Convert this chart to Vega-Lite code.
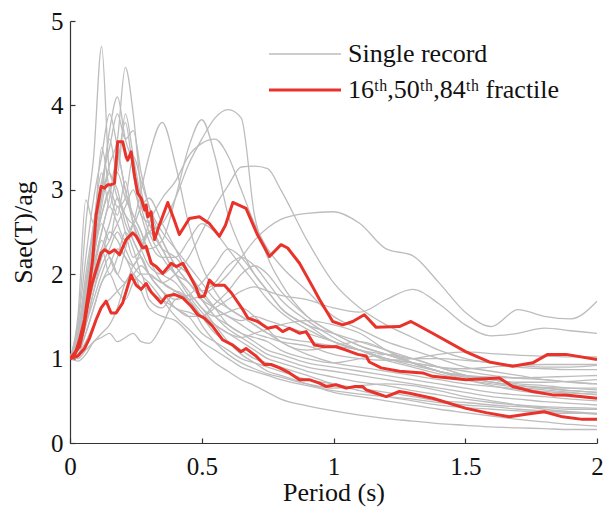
{
"$schema": "https://vega.github.io/schema/vega-lite/v6.json",
"width": 527, "height": 422,
"autosize": {"type": "none"},
"padding": {"left": 70, "top": 21, "right": 8, "bottom": 68},
"background": "white",
"config": {
 "view": {"stroke": null},
 "font": "Liberation Serif",
 "axis": {"grid": false, "domainColor": "#333", "tickColor": "#333", "labelColor": "#111", "titleColor": "#111", "labelFont": "Liberation Serif", "titleFont": "Liberation Serif", "labelFontSize": 25, "titleFontSize": 26, "titleFontWeight": "normal", "tickSize": -5, "domainWidth": 1.2, "tickWidth": 1.2},
 "legend": {"orient": "none", "legendX": 195, "legendY": 20, "padding": 0, "labelFont": "Liberation Serif", "labelFontSize": 26, "labelColor": "#111", "symbolType": "M-1,0H7", "symbolSize": 324, "labelOffset": 57, "rowPadding": 10, "title": null, "labelLimit": 400}
},
"datasets": {
"gray": [
{"s":"a","x":0,"y":1},{"s":"a","x":0.03,"y":1.4},{"s":"a","x":0.06,"y":2.6},{"s":"a","x":0.09,"y":3.4},{"s":"a","x":0.12,"y":4.7},{"s":"a","x":0.15,"y":3.2},{"s":"a","x":0.18,"y":3},{"s":"a","x":0.21,"y":2.6},{"s":"a","x":0.24,"y":2.4},{"s":"a","x":0.27,"y":2.2},{"s":"a","x":0.3,"y":2},{"s":"a","x":0.35,"y":1.8},{"s":"a","x":0.4,"y":1.6},{"s":"a","x":0.45,"y":1.5},{"s":"a","x":0.5,"y":1.3},{"s":"a","x":0.55,"y":1.2},{"s":"a","x":0.6,"y":1.1},{"s":"a","x":0.65,"y":1},{"s":"a","x":0.7,"y":0.95},{"s":"a","x":0.75,"y":0.9},{"s":"a","x":0.8,"y":0.85},{"s":"a","x":0.9,"y":0.75},{"s":"a","x":1,"y":0.7},{"s":"a","x":1.1,"y":0.62},{"s":"a","x":1.2,"y":0.55},{"s":"a","x":1.3,"y":0.5},{"s":"a","x":1.4,"y":0.45},{"s":"a","x":1.5,"y":0.42},{"s":"a","x":1.6,"y":0.4},{"s":"a","x":1.7,"y":0.38},{"s":"a","x":1.8,"y":0.36},{"s":"a","x":1.9,"y":0.35},{"s":"a","x":2,"y":0.35},
{"s":"b","x":0,"y":1},{"s":"b","x":0.03,"y":1.3},{"s":"b","x":0.06,"y":1.9},{"s":"b","x":0.09,"y":2.5},{"s":"b","x":0.12,"y":2.9},{"s":"b","x":0.15,"y":3.3},{"s":"b","x":0.18,"y":3.6},{"s":"b","x":0.21,"y":4.45},{"s":"b","x":0.24,"y":3.9},{"s":"b","x":0.27,"y":3},{"s":"b","x":0.3,"y":2.7},{"s":"b","x":0.35,"y":2.4},{"s":"b","x":0.4,"y":2.1},{"s":"b","x":0.45,"y":1.9},{"s":"b","x":0.5,"y":1.7},{"s":"b","x":0.55,"y":1.5},{"s":"b","x":0.6,"y":1.4},{"s":"b","x":0.65,"y":1.3},{"s":"b","x":0.7,"y":1.2},{"s":"b","x":0.75,"y":1.1},{"s":"b","x":0.8,"y":1.05},{"s":"b","x":0.9,"y":0.95},{"s":"b","x":1,"y":0.9},{"s":"b","x":1.1,"y":0.85},{"s":"b","x":1.2,"y":0.8},{"s":"b","x":1.3,"y":0.75},{"s":"b","x":1.4,"y":0.7},{"s":"b","x":1.5,"y":0.65},{"s":"b","x":1.6,"y":0.6},{"s":"b","x":1.7,"y":0.57},{"s":"b","x":1.8,"y":0.55},{"s":"b","x":1.9,"y":0.52},{"s":"b","x":2,"y":0.5},
{"s":"c","x":0,"y":1},{"s":"c","x":0.03,"y":1.2},{"s":"c","x":0.06,"y":1.7},{"s":"c","x":0.09,"y":2.2},{"s":"c","x":0.12,"y":2.6},{"s":"c","x":0.15,"y":2.4},{"s":"c","x":0.18,"y":2.8},{"s":"c","x":0.21,"y":2.5},{"s":"c","x":0.24,"y":2.2},{"s":"c","x":0.27,"y":2.3},{"s":"c","x":0.3,"y":2.5},{"s":"c","x":0.35,"y":2.6},{"s":"c","x":0.4,"y":2.9},{"s":"c","x":0.45,"y":3.3},{"s":"c","x":0.5,"y":3.6},{"s":"c","x":0.55,"y":3.85},{"s":"c","x":0.6,"y":3.95},{"s":"c","x":0.65,"y":3.85},{"s":"c","x":0.7,"y":2.7},{"s":"c","x":0.75,"y":2.2},{"s":"c","x":0.8,"y":1.9},{"s":"c","x":0.9,"y":1.5},{"s":"c","x":1,"y":1.3},{"s":"c","x":1.1,"y":1.15},{"s":"c","x":1.2,"y":1.05},{"s":"c","x":1.3,"y":0.95},{"s":"c","x":1.4,"y":0.85},{"s":"c","x":1.5,"y":0.8},{"s":"c","x":1.6,"y":0.75},{"s":"c","x":1.7,"y":0.7},{"s":"c","x":1.8,"y":0.68},{"s":"c","x":1.9,"y":0.65},{"s":"c","x":2,"y":0.63},
{"s":"d","x":0,"y":1},{"s":"d","x":0.03,"y":1.3},{"s":"d","x":0.06,"y":1.8},{"s":"d","x":0.09,"y":2.3},{"s":"d","x":0.12,"y":2.7},{"s":"d","x":0.15,"y":3},{"s":"d","x":0.18,"y":3.2},{"s":"d","x":0.21,"y":2.9},{"s":"d","x":0.24,"y":2.7},{"s":"d","x":0.27,"y":2.5},{"s":"d","x":0.3,"y":2.3},{"s":"d","x":0.35,"y":2.4},{"s":"d","x":0.4,"y":2.9},{"s":"d","x":0.45,"y":3.5},{"s":"d","x":0.5,"y":3.83},{"s":"d","x":0.55,"y":3.4},{"s":"d","x":0.6,"y":2.7},{"s":"d","x":0.65,"y":2.3},{"s":"d","x":0.7,"y":2},{"s":"d","x":0.75,"y":1.8},{"s":"d","x":0.8,"y":1.6},{"s":"d","x":0.9,"y":1.4},{"s":"d","x":1,"y":1.3},{"s":"d","x":1.1,"y":1.2},{"s":"d","x":1.2,"y":1.1},{"s":"d","x":1.3,"y":1},{"s":"d","x":1.4,"y":0.9},{"s":"d","x":1.5,"y":0.8},{"s":"d","x":1.6,"y":0.72},{"s":"d","x":1.7,"y":0.68},{"s":"d","x":1.8,"y":0.65},{"s":"d","x":1.9,"y":0.62},{"s":"d","x":2,"y":0.6},
{"s":"e","x":0,"y":1},{"s":"e","x":0.03,"y":1.2},{"s":"e","x":0.06,"y":1.6},{"s":"e","x":0.09,"y":2.1},{"s":"e","x":0.12,"y":2.5},{"s":"e","x":0.15,"y":2.8},{"s":"e","x":0.18,"y":2.6},{"s":"e","x":0.21,"y":2.4},{"s":"e","x":0.24,"y":2.6},{"s":"e","x":0.27,"y":3},{"s":"e","x":0.3,"y":3.4},{"s":"e","x":0.35,"y":3.8},{"s":"e","x":0.4,"y":3.3},{"s":"e","x":0.45,"y":2.6},{"s":"e","x":0.5,"y":2.1},{"s":"e","x":0.55,"y":1.8},{"s":"e","x":0.6,"y":1.6},{"s":"e","x":0.65,"y":1.5},{"s":"e","x":0.7,"y":1.4},{"s":"e","x":0.75,"y":1.3},{"s":"e","x":0.8,"y":1.25},{"s":"e","x":0.9,"y":1.2},{"s":"e","x":1,"y":1.15},{"s":"e","x":1.1,"y":1.1},{"s":"e","x":1.2,"y":1},{"s":"e","x":1.3,"y":0.95},{"s":"e","x":1.4,"y":0.9},{"s":"e","x":1.5,"y":0.85},{"s":"e","x":1.6,"y":0.8},{"s":"e","x":1.7,"y":0.77},{"s":"e","x":1.8,"y":0.75},{"s":"e","x":1.9,"y":0.72},{"s":"e","x":2,"y":0.7},
{"s":"f","x":0,"y":1},{"s":"f","x":0.03,"y":1.15},{"s":"f","x":0.06,"y":1.5},{"s":"f","x":0.09,"y":1.9},{"s":"f","x":0.12,"y":2.2},{"s":"f","x":0.15,"y":2.5},{"s":"f","x":0.18,"y":2.4},{"s":"f","x":0.21,"y":2.2},{"s":"f","x":0.24,"y":2.1},{"s":"f","x":0.27,"y":2.3},{"s":"f","x":0.3,"y":2.6},{"s":"f","x":0.35,"y":2.9},{"s":"f","x":0.4,"y":3.1},{"s":"f","x":0.45,"y":3.4},{"s":"f","x":0.5,"y":3.55},{"s":"f","x":0.55,"y":3.6},{"s":"f","x":0.6,"y":3.4},{"s":"f","x":0.65,"y":3},{"s":"f","x":0.7,"y":2.6},{"s":"f","x":0.75,"y":2.3},{"s":"f","x":0.8,"y":2.1},{"s":"f","x":0.9,"y":1.8},{"s":"f","x":1,"y":1.5},{"s":"f","x":1.1,"y":1.35},{"s":"f","x":1.2,"y":1.2},{"s":"f","x":1.3,"y":1.1},{"s":"f","x":1.4,"y":1},{"s":"f","x":1.5,"y":0.9},{"s":"f","x":1.6,"y":0.85},{"s":"f","x":1.7,"y":0.8},{"s":"f","x":1.8,"y":0.75},{"s":"f","x":1.9,"y":0.72},{"s":"f","x":2,"y":0.7},
{"s":"g","x":0,"y":1},{"s":"g","x":0.03,"y":1.1},{"s":"g","x":0.06,"y":1.4},{"s":"g","x":0.09,"y":1.8},{"s":"g","x":0.12,"y":2.1},{"s":"g","x":0.15,"y":2.3},{"s":"g","x":0.18,"y":2.5},{"s":"g","x":0.21,"y":2.3},{"s":"g","x":0.24,"y":2.1},{"s":"g","x":0.27,"y":2},{"s":"g","x":0.3,"y":2},{"s":"g","x":0.35,"y":1.9},{"s":"g","x":0.4,"y":2},{"s":"g","x":0.45,"y":2.2},{"s":"g","x":0.5,"y":2.5},{"s":"g","x":0.55,"y":2.8},{"s":"g","x":0.6,"y":3.05},{"s":"g","x":0.65,"y":3.27},{"s":"g","x":0.7,"y":3.28},{"s":"g","x":0.75,"y":3.25},{"s":"g","x":0.8,"y":3},{"s":"g","x":0.9,"y":2.4},{"s":"g","x":1,"y":1.9},{"s":"g","x":1.1,"y":1.6},{"s":"g","x":1.2,"y":1.4},{"s":"g","x":1.3,"y":1.25},{"s":"g","x":1.4,"y":1.1},{"s":"g","x":1.5,"y":1},{"s":"g","x":1.6,"y":0.95},{"s":"g","x":1.7,"y":0.92},{"s":"g","x":1.8,"y":0.9},{"s":"g","x":1.9,"y":0.9},{"s":"g","x":2,"y":0.92},
{"s":"h","x":0,"y":1},{"s":"h","x":0.03,"y":1.05},{"s":"h","x":0.06,"y":1.2},{"s":"h","x":0.09,"y":1.4},{"s":"h","x":0.12,"y":1.6},{"s":"h","x":0.15,"y":1.7},{"s":"h","x":0.18,"y":1.8},{"s":"h","x":0.21,"y":1.9},{"s":"h","x":0.24,"y":2},{"s":"h","x":0.27,"y":2.1},{"s":"h","x":0.3,"y":2},{"s":"h","x":0.35,"y":1.9},{"s":"h","x":0.4,"y":1.8},{"s":"h","x":0.45,"y":1.7},{"s":"h","x":0.5,"y":1.75},{"s":"h","x":0.55,"y":1.85},{"s":"h","x":0.6,"y":2},{"s":"h","x":0.65,"y":2.2},{"s":"h","x":0.7,"y":2.4},{"s":"h","x":0.75,"y":2.55},{"s":"h","x":0.8,"y":2.65},{"s":"h","x":0.9,"y":2.72},{"s":"h","x":1,"y":2.74},{"s":"h","x":1.1,"y":2.6},{"s":"h","x":1.2,"y":2.3},{"s":"h","x":1.3,"y":2.22},{"s":"h","x":1.4,"y":1.9},{"s":"h","x":1.5,"y":1.55},{"s":"h","x":1.6,"y":1.38},{"s":"h","x":1.7,"y":1.58},{"s":"h","x":1.8,"y":1.5},{"s":"h","x":1.9,"y":1.47},{"s":"h","x":2,"y":1.68},
{"s":"i","x":0,"y":1},{"s":"i","x":0.03,"y":1.1},{"s":"i","x":0.06,"y":1.3},{"s":"i","x":0.09,"y":1.6},{"s":"i","x":0.12,"y":1.9},{"s":"i","x":0.15,"y":2.1},{"s":"i","x":0.18,"y":2.3},{"s":"i","x":0.21,"y":2.2},{"s":"i","x":0.24,"y":2},{"s":"i","x":0.27,"y":1.9},{"s":"i","x":0.3,"y":1.8},{"s":"i","x":0.35,"y":1.7},{"s":"i","x":0.4,"y":1.6},{"s":"i","x":0.45,"y":1.5},{"s":"i","x":0.5,"y":1.5},{"s":"i","x":0.55,"y":1.6},{"s":"i","x":0.6,"y":1.7},{"s":"i","x":0.65,"y":1.8},{"s":"i","x":0.7,"y":1.85},{"s":"i","x":0.75,"y":1.8},{"s":"i","x":0.8,"y":1.75},{"s":"i","x":0.9,"y":1.7},{"s":"i","x":1,"y":1.6},{"s":"i","x":1.1,"y":1.55},{"s":"i","x":1.2,"y":1.7},{"s":"i","x":1.3,"y":1.82},{"s":"i","x":1.4,"y":1.65},{"s":"i","x":1.5,"y":1.4},{"s":"i","x":1.6,"y":1.27},{"s":"i","x":1.7,"y":1.3},{"s":"i","x":1.8,"y":1.36},{"s":"i","x":1.9,"y":1.33},{"s":"i","x":2,"y":1.3},
{"s":"j","x":0,"y":1},{"s":"j","x":0.03,"y":1},{"s":"j","x":0.06,"y":1.1},{"s":"j","x":0.09,"y":1.2},{"s":"j","x":0.12,"y":1.3},{"s":"j","x":0.15,"y":1.4},{"s":"j","x":0.18,"y":1.6},{"s":"j","x":0.21,"y":1.9},{"s":"j","x":0.24,"y":2},{"s":"j","x":0.27,"y":1.8},{"s":"j","x":0.3,"y":1.6},{"s":"j","x":0.35,"y":1.5},{"s":"j","x":0.4,"y":1.45},{"s":"j","x":0.45,"y":1.3},{"s":"j","x":0.5,"y":1.1},{"s":"j","x":0.55,"y":0.95},{"s":"j","x":0.6,"y":0.85},{"s":"j","x":0.65,"y":0.75},{"s":"j","x":0.7,"y":0.68},{"s":"j","x":0.75,"y":0.6},{"s":"j","x":0.8,"y":0.52},{"s":"j","x":0.9,"y":0.44},{"s":"j","x":1,"y":0.38},{"s":"j","x":1.1,"y":0.33},{"s":"j","x":1.2,"y":0.29},{"s":"j","x":1.3,"y":0.26},{"s":"j","x":1.4,"y":0.23},{"s":"j","x":1.5,"y":0.21},{"s":"j","x":1.6,"y":0.19},{"s":"j","x":1.7,"y":0.18},{"s":"j","x":1.8,"y":0.17},{"s":"j","x":1.9,"y":0.16},{"s":"j","x":2,"y":0.16},
{"s":"k","x":0,"y":1},{"s":"k","x":0.03,"y":0.97},{"s":"k","x":0.06,"y":1.05},{"s":"k","x":0.09,"y":1.2},{"s":"k","x":0.12,"y":1.25},{"s":"k","x":0.15,"y":1.3},{"s":"k","x":0.18,"y":1.2},{"s":"k","x":0.21,"y":1.25},{"s":"k","x":0.24,"y":1.3},{"s":"k","x":0.27,"y":1.2},{"s":"k","x":0.3,"y":1.18},{"s":"k","x":0.35,"y":1.4},{"s":"k","x":0.4,"y":1.7},{"s":"k","x":0.45,"y":1.75},{"s":"k","x":0.5,"y":1.6},{"s":"k","x":0.55,"y":1.4},{"s":"k","x":0.6,"y":1.2},{"s":"k","x":0.65,"y":1.05},{"s":"k","x":0.7,"y":0.95},{"s":"k","x":0.75,"y":0.85},{"s":"k","x":0.8,"y":0.8},{"s":"k","x":0.9,"y":0.7},{"s":"k","x":1,"y":0.6},{"s":"k","x":1.1,"y":0.55},{"s":"k","x":1.2,"y":0.5},{"s":"k","x":1.3,"y":0.45},{"s":"k","x":1.4,"y":0.4},{"s":"k","x":1.5,"y":0.36},{"s":"k","x":1.6,"y":0.32},{"s":"k","x":1.7,"y":0.28},{"s":"k","x":1.8,"y":0.25},{"s":"k","x":1.9,"y":0.22},{"s":"k","x":2,"y":0.2},
{"s":"l","x":0,"y":1},{"s":"l","x":0.03,"y":1.4},{"s":"l","x":0.06,"y":2.2},{"s":"l","x":0.09,"y":2.9},{"s":"l","x":0.12,"y":3.4},{"s":"l","x":0.15,"y":3.9},{"s":"l","x":0.18,"y":3.5},{"s":"l","x":0.21,"y":3},{"s":"l","x":0.24,"y":2.7},{"s":"l","x":0.27,"y":2.5},{"s":"l","x":0.3,"y":2.2},{"s":"l","x":0.35,"y":1.9},{"s":"l","x":0.4,"y":1.8},{"s":"l","x":0.45,"y":1.7},{"s":"l","x":0.5,"y":1.5},{"s":"l","x":0.55,"y":1.3},{"s":"l","x":0.6,"y":1.2},{"s":"l","x":0.65,"y":1.1},{"s":"l","x":0.7,"y":1},{"s":"l","x":0.75,"y":0.95},{"s":"l","x":0.8,"y":0.9},{"s":"l","x":0.9,"y":0.8},{"s":"l","x":1,"y":0.7},{"s":"l","x":1.1,"y":0.65},{"s":"l","x":1.2,"y":0.6},{"s":"l","x":1.3,"y":0.55},{"s":"l","x":1.4,"y":0.5},{"s":"l","x":1.5,"y":0.48},{"s":"l","x":1.6,"y":0.45},{"s":"l","x":1.7,"y":0.43},{"s":"l","x":1.8,"y":0.42},{"s":"l","x":1.9,"y":0.4},{"s":"l","x":2,"y":0.4},
{"s":"m","x":0,"y":1},{"s":"m","x":0.03,"y":1.5},{"s":"m","x":0.06,"y":2.88},{"s":"m","x":0.09,"y":2.6},{"s":"m","x":0.12,"y":3.5},{"s":"m","x":0.15,"y":3},{"s":"m","x":0.18,"y":2.7},{"s":"m","x":0.21,"y":3.1},{"s":"m","x":0.24,"y":2.6},{"s":"m","x":0.27,"y":2.3},{"s":"m","x":0.3,"y":2.1},{"s":"m","x":0.35,"y":2},{"s":"m","x":0.4,"y":2.1},{"s":"m","x":0.45,"y":2},{"s":"m","x":0.5,"y":1.8},{"s":"m","x":0.55,"y":1.6},{"s":"m","x":0.6,"y":1.4},{"s":"m","x":0.65,"y":1.3},{"s":"m","x":0.7,"y":1.25},{"s":"m","x":0.75,"y":1.2},{"s":"m","x":0.8,"y":1.1},{"s":"m","x":0.9,"y":1},{"s":"m","x":1,"y":0.95},{"s":"m","x":1.1,"y":1},{"s":"m","x":1.2,"y":1.05},{"s":"m","x":1.3,"y":1},{"s":"m","x":1.4,"y":0.9},{"s":"m","x":1.5,"y":0.8},{"s":"m","x":1.6,"y":0.75},{"s":"m","x":1.7,"y":0.72},{"s":"m","x":1.8,"y":0.72},{"s":"m","x":1.9,"y":0.73},{"s":"m","x":2,"y":0.75},
{"s":"n","x":0,"y":1},{"s":"n","x":0.03,"y":1.2},{"s":"n","x":0.06,"y":1.8},{"s":"n","x":0.09,"y":2.4},{"s":"n","x":0.12,"y":3},{"s":"n","x":0.15,"y":3.7},{"s":"n","x":0.18,"y":4.1},{"s":"n","x":0.21,"y":3.6},{"s":"n","x":0.24,"y":3.3},{"s":"n","x":0.27,"y":2.8},{"s":"n","x":0.3,"y":2.5},{"s":"n","x":0.35,"y":2.2},{"s":"n","x":0.4,"y":2},{"s":"n","x":0.45,"y":1.9},{"s":"n","x":0.5,"y":1.7},{"s":"n","x":0.55,"y":1.6},{"s":"n","x":0.6,"y":1.5},{"s":"n","x":0.65,"y":1.45},{"s":"n","x":0.7,"y":1.5},{"s":"n","x":0.75,"y":1.45},{"s":"n","x":0.8,"y":1.4},{"s":"n","x":0.9,"y":1.3},{"s":"n","x":1,"y":1.2},{"s":"n","x":1.1,"y":1.1},{"s":"n","x":1.2,"y":1},{"s":"n","x":1.3,"y":0.95},{"s":"n","x":1.4,"y":0.9},{"s":"n","x":1.5,"y":0.88},{"s":"n","x":1.6,"y":0.9},{"s":"n","x":1.7,"y":0.92},{"s":"n","x":1.8,"y":0.93},{"s":"n","x":1.9,"y":0.93},{"s":"n","x":2,"y":0.93},
{"s":"o","x":0,"y":1},{"s":"o","x":0.03,"y":1.1},{"s":"o","x":0.06,"y":1.5},{"s":"o","x":0.09,"y":2},{"s":"o","x":0.12,"y":2.4},{"s":"o","x":0.15,"y":2.2},{"s":"o","x":0.18,"y":2},{"s":"o","x":0.21,"y":2.3},{"s":"o","x":0.24,"y":2.6},{"s":"o","x":0.27,"y":2.4},{"s":"o","x":0.3,"y":2.2},{"s":"o","x":0.35,"y":2},{"s":"o","x":0.4,"y":1.9},{"s":"o","x":0.45,"y":1.7},{"s":"o","x":0.5,"y":1.5},{"s":"o","x":0.55,"y":1.4},{"s":"o","x":0.6,"y":1.3},{"s":"o","x":0.65,"y":1.25},{"s":"o","x":0.7,"y":1.3},{"s":"o","x":0.75,"y":1.35},{"s":"o","x":0.8,"y":1.4},{"s":"o","x":0.9,"y":1.45},{"s":"o","x":1,"y":1.4},{"s":"o","x":1.1,"y":1.3},{"s":"o","x":1.2,"y":1.1},{"s":"o","x":1.3,"y":0.95},{"s":"o","x":1.4,"y":0.85},{"s":"o","x":1.5,"y":0.78},{"s":"o","x":1.6,"y":0.72},{"s":"o","x":1.7,"y":0.68},{"s":"o","x":1.8,"y":0.66},{"s":"o","x":1.9,"y":0.65},{"s":"o","x":2,"y":0.65},
{"s":"p","x":0,"y":1},{"s":"p","x":0.03,"y":1.3},{"s":"p","x":0.06,"y":2},{"s":"p","x":0.09,"y":2.6},{"s":"p","x":0.12,"y":3.2},{"s":"p","x":0.15,"y":2.8},{"s":"p","x":0.18,"y":3.3},{"s":"p","x":0.21,"y":3.8},{"s":"p","x":0.24,"y":3.2},{"s":"p","x":0.27,"y":2.7},{"s":"p","x":0.3,"y":2.6},{"s":"p","x":0.35,"y":2.3},{"s":"p","x":0.4,"y":2},{"s":"p","x":0.45,"y":1.8},{"s":"p","x":0.5,"y":1.6},{"s":"p","x":0.55,"y":1.5},{"s":"p","x":0.6,"y":1.55},{"s":"p","x":0.65,"y":1.6},{"s":"p","x":0.7,"y":1.5},{"s":"p","x":0.75,"y":1.35},{"s":"p","x":0.8,"y":1.2},{"s":"p","x":0.9,"y":1.1},{"s":"p","x":1,"y":1.15},{"s":"p","x":1.1,"y":1.2},{"s":"p","x":1.2,"y":1.1},{"s":"p","x":1.3,"y":0.95},{"s":"p","x":1.4,"y":0.85},{"s":"p","x":1.5,"y":0.75},{"s":"p","x":1.6,"y":0.68},{"s":"p","x":1.7,"y":0.62},{"s":"p","x":1.8,"y":0.58},{"s":"p","x":1.9,"y":0.55},{"s":"p","x":2,"y":0.53},
{"s":"q","x":0,"y":1},{"s":"q","x":0.03,"y":1.1},{"s":"q","x":0.06,"y":1.4},{"s":"q","x":0.09,"y":1.7},{"s":"q","x":0.12,"y":2},{"s":"q","x":0.15,"y":2.2},{"s":"q","x":0.18,"y":2},{"s":"q","x":0.21,"y":1.9},{"s":"q","x":0.24,"y":2.1},{"s":"q","x":0.27,"y":2.2},{"s":"q","x":0.3,"y":2},{"s":"q","x":0.35,"y":1.8},{"s":"q","x":0.4,"y":1.7},{"s":"q","x":0.45,"y":1.75},{"s":"q","x":0.5,"y":1.9},{"s":"q","x":0.55,"y":2.1},{"s":"q","x":0.6,"y":2.3},{"s":"q","x":0.65,"y":2.2},{"s":"q","x":0.7,"y":2},{"s":"q","x":0.75,"y":1.8},{"s":"q","x":0.8,"y":1.6},{"s":"q","x":0.9,"y":1.4},{"s":"q","x":1,"y":1.2},{"s":"q","x":1.1,"y":1.1},{"s":"q","x":1.2,"y":1.05},{"s":"q","x":1.3,"y":1},{"s":"q","x":1.4,"y":1},{"s":"q","x":1.5,"y":0.98},{"s":"q","x":1.6,"y":0.95},{"s":"q","x":1.7,"y":0.9},{"s":"q","x":1.8,"y":0.88},{"s":"q","x":1.9,"y":0.87},{"s":"q","x":2,"y":0.87},
{"s":"r","x":0,"y":1},{"s":"r","x":0.03,"y":1.2},{"s":"r","x":0.06,"y":1.7},{"s":"r","x":0.09,"y":2.1},{"s":"r","x":0.12,"y":2.5},{"s":"r","x":0.15,"y":2.9},{"s":"r","x":0.18,"y":3.4},{"s":"r","x":0.21,"y":3},{"s":"r","x":0.24,"y":2.6},{"s":"r","x":0.27,"y":2.4},{"s":"r","x":0.3,"y":2.5},{"s":"r","x":0.35,"y":2.3},{"s":"r","x":0.4,"y":2.2},{"s":"r","x":0.45,"y":2},{"s":"r","x":0.5,"y":1.7},{"s":"r","x":0.55,"y":1.5},{"s":"r","x":0.6,"y":1.35},{"s":"r","x":0.65,"y":1.25},{"s":"r","x":0.7,"y":1.15},{"s":"r","x":0.75,"y":1.05},{"s":"r","x":0.8,"y":1},{"s":"r","x":0.9,"y":0.9},{"s":"r","x":1,"y":0.85},{"s":"r","x":1.1,"y":0.8},{"s":"r","x":1.2,"y":0.75},{"s":"r","x":1.3,"y":0.7},{"s":"r","x":1.4,"y":0.65},{"s":"r","x":1.5,"y":0.6},{"s":"r","x":1.6,"y":0.55},{"s":"r","x":1.7,"y":0.52},{"s":"r","x":1.8,"y":0.49},{"s":"r","x":1.9,"y":0.47},{"s":"r","x":2,"y":0.45},
{"s":"s","x":0,"y":1},{"s":"s","x":0.03,"y":1.05},{"s":"s","x":0.06,"y":1.3},{"s":"s","x":0.09,"y":1.6},{"s":"s","x":0.12,"y":1.9},{"s":"s","x":0.15,"y":2},{"s":"s","x":0.18,"y":1.8},{"s":"s","x":0.21,"y":1.7},{"s":"s","x":0.24,"y":1.9},{"s":"s","x":0.27,"y":2},{"s":"s","x":0.3,"y":1.7},{"s":"s","x":0.35,"y":1.6},{"s":"s","x":0.4,"y":1.8},{"s":"s","x":0.45,"y":1.7},{"s":"s","x":0.5,"y":1.4},{"s":"s","x":0.55,"y":1.2},{"s":"s","x":0.6,"y":1.05},{"s":"s","x":0.65,"y":0.95},{"s":"s","x":0.7,"y":0.88},{"s":"s","x":0.75,"y":0.82},{"s":"s","x":0.8,"y":0.78},{"s":"s","x":0.9,"y":0.7},{"s":"s","x":1,"y":0.65},{"s":"s","x":1.1,"y":0.68},{"s":"s","x":1.2,"y":0.7},{"s":"s","x":1.3,"y":0.68},{"s":"s","x":1.4,"y":0.62},{"s":"s","x":1.5,"y":0.55},{"s":"s","x":1.6,"y":0.5},{"s":"s","x":1.7,"y":0.45},{"s":"s","x":1.8,"y":0.4},{"s":"s","x":1.9,"y":0.37},{"s":"s","x":2,"y":0.35},
{"s":"t","x":0,"y":1},{"s":"t","x":0.03,"y":1.3},{"s":"t","x":0.06,"y":1.9},{"s":"t","x":0.09,"y":2.3},{"s":"t","x":0.12,"y":2.7},{"s":"t","x":0.15,"y":3},{"s":"t","x":0.18,"y":2.8},{"s":"t","x":0.21,"y":2.9},{"s":"t","x":0.24,"y":3.4},{"s":"t","x":0.27,"y":3.1},{"s":"t","x":0.3,"y":2.8},{"s":"t","x":0.35,"y":2.5},{"s":"t","x":0.4,"y":2.3},{"s":"t","x":0.45,"y":2.1},{"s":"t","x":0.5,"y":1.9},{"s":"t","x":0.55,"y":1.7},{"s":"t","x":0.6,"y":1.6},{"s":"t","x":0.65,"y":1.5},{"s":"t","x":0.7,"y":1.4},{"s":"t","x":0.75,"y":1.3},{"s":"t","x":0.8,"y":1.2},{"s":"t","x":0.9,"y":1.05},{"s":"t","x":1,"y":0.95},{"s":"t","x":1.1,"y":0.9},{"s":"t","x":1.2,"y":0.85},{"s":"t","x":1.3,"y":0.8},{"s":"t","x":1.4,"y":0.75},{"s":"t","x":1.5,"y":0.7},{"s":"t","x":1.6,"y":0.67},{"s":"t","x":1.7,"y":0.64},{"s":"t","x":1.8,"y":0.61},{"s":"t","x":1.9,"y":0.59},{"s":"t","x":2,"y":0.58},
{"s":"u","x":0,"y":1},{"s":"u","x":0.03,"y":1.2},{"s":"u","x":0.06,"y":1.6},{"s":"u","x":0.09,"y":2},{"s":"u","x":0.12,"y":2.3},{"s":"u","x":0.15,"y":2.6},{"s":"u","x":0.18,"y":2.9},{"s":"u","x":0.21,"y":2.7},{"s":"u","x":0.24,"y":2.4},{"s":"u","x":0.27,"y":2.2},{"s":"u","x":0.3,"y":2},{"s":"u","x":0.35,"y":1.8},{"s":"u","x":0.4,"y":1.6},{"s":"u","x":0.45,"y":1.55},{"s":"u","x":0.5,"y":1.5},{"s":"u","x":0.55,"y":1.65},{"s":"u","x":0.6,"y":1.8},{"s":"u","x":0.65,"y":2},{"s":"u","x":0.7,"y":2.1},{"s":"u","x":0.75,"y":2},{"s":"u","x":0.8,"y":1.8},{"s":"u","x":0.9,"y":1.5},{"s":"u","x":1,"y":1.3},{"s":"u","x":1.1,"y":1.15},{"s":"u","x":1.2,"y":1.05},{"s":"u","x":1.3,"y":0.95},{"s":"u","x":1.4,"y":0.85},{"s":"u","x":1.5,"y":0.8},{"s":"u","x":1.6,"y":0.78},{"s":"u","x":1.7,"y":0.77},{"s":"u","x":1.8,"y":0.78},{"s":"u","x":1.9,"y":0.79},{"s":"u","x":2,"y":0.8},
{"s":"v","x":0,"y":1},{"s":"v","x":0.03,"y":1.1},{"s":"v","x":0.06,"y":1.5},{"s":"v","x":0.09,"y":1.9},{"s":"v","x":0.12,"y":2.3},{"s":"v","x":0.15,"y":2},{"s":"v","x":0.18,"y":2.2},{"s":"v","x":0.21,"y":2.5},{"s":"v","x":0.24,"y":2.3},{"s":"v","x":0.27,"y":2},{"s":"v","x":0.3,"y":1.9},{"s":"v","x":0.35,"y":1.7},{"s":"v","x":0.4,"y":1.5},{"s":"v","x":0.45,"y":1.35},{"s":"v","x":0.5,"y":1.2},{"s":"v","x":0.55,"y":1.1},{"s":"v","x":0.6,"y":1},{"s":"v","x":0.65,"y":0.9},{"s":"v","x":0.7,"y":0.85},{"s":"v","x":0.75,"y":0.8},{"s":"v","x":0.8,"y":0.75},{"s":"v","x":0.9,"y":0.68},{"s":"v","x":1,"y":0.62},{"s":"v","x":1.1,"y":0.58},{"s":"v","x":1.2,"y":0.55},{"s":"v","x":1.3,"y":0.52},{"s":"v","x":1.4,"y":0.48},{"s":"v","x":1.5,"y":0.45},{"s":"v","x":1.6,"y":0.43},{"s":"v","x":1.7,"y":0.4},{"s":"v","x":1.8,"y":0.38},{"s":"v","x":1.9,"y":0.36},{"s":"v","x":2,"y":0.34},
{"s":"w","x":0,"y":1},{"s":"w","x":0.03,"y":1.25},{"s":"w","x":0.06,"y":1.8},{"s":"w","x":0.09,"y":2.6},{"s":"w","x":0.12,"y":3.1},{"s":"w","x":0.15,"y":3.5},{"s":"w","x":0.18,"y":3.9},{"s":"w","x":0.21,"y":3.6},{"s":"w","x":0.24,"y":3.7},{"s":"w","x":0.27,"y":3.2},{"s":"w","x":0.3,"y":2.8},{"s":"w","x":0.35,"y":2.4},{"s":"w","x":0.4,"y":2.1},{"s":"w","x":0.45,"y":1.9},{"s":"w","x":0.5,"y":1.75},{"s":"w","x":0.55,"y":1.6},{"s":"w","x":0.6,"y":1.5},{"s":"w","x":0.65,"y":1.4},{"s":"w","x":0.7,"y":1.3},{"s":"w","x":0.75,"y":1.25},{"s":"w","x":0.8,"y":1.2},{"s":"w","x":0.9,"y":1.15},{"s":"w","x":1,"y":1.05},{"s":"w","x":1.1,"y":1},{"s":"w","x":1.2,"y":0.98},{"s":"w","x":1.3,"y":1},{"s":"w","x":1.4,"y":1.05},{"s":"w","x":1.5,"y":1.08},{"s":"w","x":1.6,"y":1.06},{"s":"w","x":1.7,"y":1.04},{"s":"w","x":1.8,"y":1.03},{"s":"w","x":1.9,"y":1.02},{"s":"w","x":2,"y":1.02},
{"s":"x","x":0,"y":1},{"s":"x","x":0.03,"y":1.15},{"s":"x","x":0.06,"y":1.6},{"s":"x","x":0.09,"y":2.2},{"s":"x","x":0.12,"y":2.8},{"s":"x","x":0.15,"y":3.2},{"s":"x","x":0.18,"y":2.9},{"s":"x","x":0.21,"y":2.7},{"s":"x","x":0.24,"y":2.6},{"s":"x","x":0.27,"y":2.8},{"s":"x","x":0.3,"y":2.9},{"s":"x","x":0.35,"y":2.6},{"s":"x","x":0.4,"y":2.3},{"s":"x","x":0.45,"y":2},{"s":"x","x":0.5,"y":1.8},{"s":"x","x":0.55,"y":1.9},{"s":"x","x":0.6,"y":2.1},{"s":"x","x":0.65,"y":2.2},{"s":"x","x":0.7,"y":2.1},{"s":"x","x":0.75,"y":1.9},{"s":"x","x":0.8,"y":1.7},{"s":"x","x":0.9,"y":1.45},{"s":"x","x":1,"y":1.25},{"s":"x","x":1.1,"y":1.1},{"s":"x","x":1.2,"y":0.98},{"s":"x","x":1.3,"y":0.9},{"s":"x","x":1.4,"y":0.82},{"s":"x","x":1.5,"y":0.75},{"s":"x","x":1.6,"y":0.7},{"s":"x","x":1.7,"y":0.66},{"s":"x","x":1.8,"y":0.63},{"s":"x","x":1.9,"y":0.6},{"s":"x","x":2,"y":0.57},
{"s":"y","x":0,"y":1},{"s":"y","x":0.03,"y":1.1},{"s":"y","x":0.06,"y":1.4},{"s":"y","x":0.09,"y":1.8},{"s":"y","x":0.12,"y":2.2},{"s":"y","x":0.15,"y":2.4},{"s":"y","x":0.18,"y":2.6},{"s":"y","x":0.21,"y":2.8},{"s":"y","x":0.24,"y":3},{"s":"y","x":0.27,"y":2.7},{"s":"y","x":0.3,"y":2.4},{"s":"y","x":0.35,"y":2.2},{"s":"y","x":0.4,"y":2.2},{"s":"y","x":0.45,"y":2.4},{"s":"y","x":0.5,"y":2.6},{"s":"y","x":0.55,"y":2.5},{"s":"y","x":0.6,"y":2.3},{"s":"y","x":0.65,"y":2.1},{"s":"y","x":0.7,"y":1.9},{"s":"y","x":0.75,"y":1.7},{"s":"y","x":0.8,"y":1.55},{"s":"y","x":0.9,"y":1.35},{"s":"y","x":1,"y":1.2},{"s":"y","x":1.1,"y":1.1},{"s":"y","x":1.2,"y":1},{"s":"y","x":1.3,"y":0.92},{"s":"y","x":1.4,"y":0.85},{"s":"y","x":1.5,"y":0.78},{"s":"y","x":1.6,"y":0.72},{"s":"y","x":1.7,"y":0.68},{"s":"y","x":1.8,"y":0.65},{"s":"y","x":1.9,"y":0.62},{"s":"y","x":2,"y":0.6},
{"s":"z","x":0,"y":1},{"s":"z","x":0.03,"y":1.2},{"s":"z","x":0.06,"y":1.7},{"s":"z","x":0.09,"y":2.3},{"s":"z","x":0.12,"y":2.9},{"s":"z","x":0.15,"y":3.6},{"s":"z","x":0.18,"y":3.2},{"s":"z","x":0.21,"y":3.9},{"s":"z","x":0.24,"y":3.4},{"s":"z","x":0.27,"y":2.9},{"s":"z","x":0.3,"y":2.6},{"s":"z","x":0.35,"y":2.3},{"s":"z","x":0.4,"y":2},{"s":"z","x":0.45,"y":1.75},{"s":"z","x":0.5,"y":1.55},{"s":"z","x":0.55,"y":1.4},{"s":"z","x":0.6,"y":1.3},{"s":"z","x":0.65,"y":1.2},{"s":"z","x":0.7,"y":1.1},{"s":"z","x":0.75,"y":1},{"s":"z","x":0.8,"y":0.95},{"s":"z","x":0.9,"y":0.85},{"s":"z","x":1,"y":0.78},{"s":"z","x":1.1,"y":0.72},{"s":"z","x":1.2,"y":0.68},{"s":"z","x":1.3,"y":0.62},{"s":"z","x":1.4,"y":0.57},{"s":"z","x":1.5,"y":0.52},{"s":"z","x":1.6,"y":0.48},{"s":"z","x":1.7,"y":0.45},{"s":"z","x":1.8,"y":0.43},{"s":"z","x":1.9,"y":0.42},{"s":"z","x":2,"y":0.41}
],
"red": [
{"s":"f84","x":0,"y":1},{"s":"f84","x":0.017,"y":1.03},{"s":"f84","x":0.036,"y":1.22},{"s":"f84","x":0.055,"y":1.46},{"s":"f84","x":0.074,"y":1.88},{"s":"f84","x":0.086,"y":2.17},{"s":"f84","x":0.099,"y":2.7},{"s":"f84","x":0.118,"y":3.04},{"s":"f84","x":0.131,"y":3.02},{"s":"f84","x":0.143,"y":3.06},{"s":"f84","x":0.156,"y":3.06},{"s":"f84","x":0.169,"y":3.08},{"s":"f84","x":0.181,"y":3.57},{"s":"f84","x":0.2,"y":3.57},{"s":"f84","x":0.213,"y":3.39},{"s":"f84","x":0.219,"y":3.35},{"s":"f84","x":0.232,"y":3.45},{"s":"f84","x":0.245,"y":3.16},{"s":"f84","x":0.257,"y":2.96},{"s":"f84","x":0.27,"y":2.9},{"s":"f84","x":0.283,"y":2.76},{"s":"f84","x":0.289,"y":2.82},{"s":"f84","x":0.295,"y":2.68},{"s":"f84","x":0.308,"y":2.74},{"s":"f84","x":0.314,"y":2.56},{"s":"f84","x":0.321,"y":2.41},{"s":"f84","x":0.34,"y":2.59},{"s":"f84","x":0.371,"y":2.85},{"s":"f84","x":0.396,"y":2.64},{"s":"f84","x":0.415,"y":2.47},{"s":"f84","x":0.453,"y":2.66},{"s":"f84","x":0.491,"y":2.68},{"s":"f84","x":0.529,"y":2.6},{"s":"f84","x":0.567,"y":2.45},{"s":"f84","x":0.59,"y":2.58},{"s":"f84","x":0.618,"y":2.85},{"s":"f84","x":0.668,"y":2.78},{"s":"f84","x":0.711,"y":2.47},{"s":"f84","x":0.757,"y":2.21},{"s":"f84","x":0.801,"y":2.35},{"s":"f84","x":0.826,"y":2.31},{"s":"f84","x":0.871,"y":2.13},{"s":"f84","x":0.921,"y":1.85},{"s":"f84","x":0.947,"y":1.7},{"s":"f84","x":0.997,"y":1.44},{"s":"f84","x":1.035,"y":1.4},{"s":"f84","x":1.073,"y":1.44},{"s":"f84","x":1.117,"y":1.52},{"s":"f84","x":1.162,"y":1.37},{"s":"f84","x":1.25,"y":1.38},{"s":"f84","x":1.294,"y":1.44},{"s":"f84","x":1.376,"y":1.3},{"s":"f84","x":1.503,"y":1.08},{"s":"f84","x":1.591,"y":0.96},{"s":"f84","x":1.68,"y":0.91},{"s":"f84","x":1.756,"y":0.95},{"s":"f84","x":1.813,"y":1.05},{"s":"f84","x":1.882,"y":1.05},{"s":"f84","x":2,"y":0.99},
{"s":"f50","x":0,"y":1},{"s":"f50","x":0.036,"y":1.14},{"s":"f50","x":0.051,"y":1.34},{"s":"f50","x":0.068,"y":1.66},{"s":"f50","x":0.082,"y":1.87},{"s":"f50","x":0.099,"y":2.05},{"s":"f50","x":0.118,"y":2.25},{"s":"f50","x":0.131,"y":2.29},{"s":"f50","x":0.15,"y":2.25},{"s":"f50","x":0.169,"y":2.29},{"s":"f50","x":0.188,"y":2.23},{"s":"f50","x":0.213,"y":2.41},{"s":"f50","x":0.238,"y":2.49},{"s":"f50","x":0.251,"y":2.45},{"s":"f50","x":0.276,"y":2.31},{"s":"f50","x":0.289,"y":2.33},{"s":"f50","x":0.308,"y":2.13},{"s":"f50","x":0.327,"y":2.09},{"s":"f50","x":0.352,"y":2.01},{"s":"f50","x":0.384,"y":2.13},{"s":"f50","x":0.403,"y":2.09},{"s":"f50","x":0.428,"y":2.13},{"s":"f50","x":0.453,"y":1.99},{"s":"f50","x":0.479,"y":1.84},{"s":"f50","x":0.491,"y":1.73},{"s":"f50","x":0.51,"y":1.74},{"s":"f50","x":0.529,"y":1.93},{"s":"f50","x":0.548,"y":1.87},{"s":"f50","x":0.586,"y":1.87},{"s":"f50","x":0.612,"y":1.78},{"s":"f50","x":0.656,"y":1.58},{"s":"f50","x":0.675,"y":1.48},{"s":"f50","x":0.712,"y":1.44},{"s":"f50","x":0.75,"y":1.36},{"s":"f50","x":0.782,"y":1.38},{"s":"f50","x":0.807,"y":1.32},{"s":"f50","x":0.833,"y":1.36},{"s":"f50","x":0.871,"y":1.3},{"s":"f50","x":0.896,"y":1.32},{"s":"f50","x":0.928,"y":1.16},{"s":"f50","x":0.965,"y":1.14},{"s":"f50","x":1.01,"y":1.14},{"s":"f50","x":1.048,"y":1.1},{"s":"f50","x":1.092,"y":1.05},{"s":"f50","x":1.124,"y":1.03},{"s":"f50","x":1.136,"y":0.96},{"s":"f50","x":1.181,"y":0.89},{"s":"f50","x":1.25,"y":0.85},{"s":"f50","x":1.338,"y":0.83},{"s":"f50","x":1.376,"y":0.79},{"s":"f50","x":1.503,"y":0.75},{"s":"f50","x":1.629,"y":0.77},{"s":"f50","x":1.68,"y":0.67},{"s":"f50","x":1.756,"y":0.61},{"s":"f50","x":1.832,"y":0.57},{"s":"f50","x":1.882,"y":0.57},{"s":"f50","x":2,"y":0.53},
{"s":"f16","x":0,"y":1},{"s":"f16","x":0.03,"y":1.03},{"s":"f16","x":0.055,"y":1.12},{"s":"f16","x":0.074,"y":1.24},{"s":"f16","x":0.099,"y":1.46},{"s":"f16","x":0.118,"y":1.6},{"s":"f16","x":0.137,"y":1.68},{"s":"f16","x":0.156,"y":1.54},{"s":"f16","x":0.175,"y":1.54},{"s":"f16","x":0.2,"y":1.66},{"s":"f16","x":0.232,"y":1.99},{"s":"f16","x":0.251,"y":1.87},{"s":"f16","x":0.27,"y":1.82},{"s":"f16","x":0.289,"y":1.89},{"s":"f16","x":0.308,"y":1.79},{"s":"f16","x":0.346,"y":1.66},{"s":"f16","x":0.365,"y":1.74},{"s":"f16","x":0.396,"y":1.76},{"s":"f16","x":0.428,"y":1.72},{"s":"f16","x":0.46,"y":1.62},{"s":"f16","x":0.485,"y":1.52},{"s":"f16","x":0.51,"y":1.48},{"s":"f16","x":0.542,"y":1.38},{"s":"f16","x":0.58,"y":1.22},{"s":"f16","x":0.618,"y":1.16},{"s":"f16","x":0.649,"y":1.08},{"s":"f16","x":0.668,"y":1.12},{"s":"f16","x":0.706,"y":1.03},{"s":"f16","x":0.738,"y":0.93},{"s":"f16","x":0.763,"y":0.93},{"s":"f16","x":0.795,"y":0.89},{"s":"f16","x":0.833,"y":0.83},{"s":"f16","x":0.871,"y":0.75},{"s":"f16","x":0.908,"y":0.75},{"s":"f16","x":0.946,"y":0.71},{"s":"f16","x":0.972,"y":0.67},{"s":"f16","x":1.01,"y":0.69},{"s":"f16","x":1.048,"y":0.65},{"s":"f16","x":1.083,"y":0.67},{"s":"f16","x":1.111,"y":0.67},{"s":"f16","x":1.124,"y":0.63},{"s":"f16","x":1.162,"y":0.59},{"s":"f16","x":1.2,"y":0.55},{"s":"f16","x":1.25,"y":0.61},{"s":"f16","x":1.288,"y":0.59},{"s":"f16","x":1.376,"y":0.53},{"s":"f16","x":1.503,"y":0.41},{"s":"f16","x":1.579,"y":0.36},{"s":"f16","x":1.667,"y":0.31},{"s":"f16","x":1.731,"y":0.34},{"s":"f16","x":1.8,"y":0.37},{"s":"f16","x":1.869,"y":0.31},{"s":"f16","x":1.945,"y":0.28},{"s":"f16","x":2,"y":0.28}
]
},
"encoding": {
 "x": {"field": "x", "type": "quantitative", "scale": {"domain": [0, 2], "nice": false, "zero": false}, "axis": {"values": [0, 0.5, 1, 1.5, 2], "format": "~g", "title": "Period (s)", "labelPadding": 36, "labelBaseline": "alphabetic", "labelFlush": false, "titleBaseline": "alphabetic", "titleY": 57}},
 "y": {"field": "y", "type": "quantitative", "scale": {"domain": [0, 5], "nice": false}, "axis": {"values": [0, 1, 2, 3, 4, 5], "title": "Sae(T)/ag", "labelPadding": 12, "titleAngle": -90, "titleX": -39, "titleBaseline": "alphabetic"}}
},
"layer": [
 {"data": {"name": "gray"}, "mark": {"type": "line", "interpolate": "monotone", "clip": true},
  "encoding": {"detail": {"field": "s"},
   "color": {"datum": "Single record", "type": "nominal", "scale": {"domain": ["Single record", "16ᵗʰ,50ᵗʰ,84ᵗʰ fractile"], "range": ["#bdbdbd", "#e8322a"]}},
   "strokeWidth": {"datum": "Single record", "type": "nominal", "scale": {"domain": ["Single record", "16ᵗʰ,50ᵗʰ,84ᵗʰ fractile"], "range": [1.3, 3]}}}},
 {"data": {"name": "red"}, "mark": {"type": "line", "clip": true, "strokeJoin": "round"},
  "encoding": {"detail": {"field": "s"},
   "color": {"datum": "16ᵗʰ,50ᵗʰ,84ᵗʰ fractile", "type": "nominal"},
   "strokeWidth": {"datum": "16ᵗʰ,50ᵗʰ,84ᵗʰ fractile", "type": "nominal"}}}
]
}
